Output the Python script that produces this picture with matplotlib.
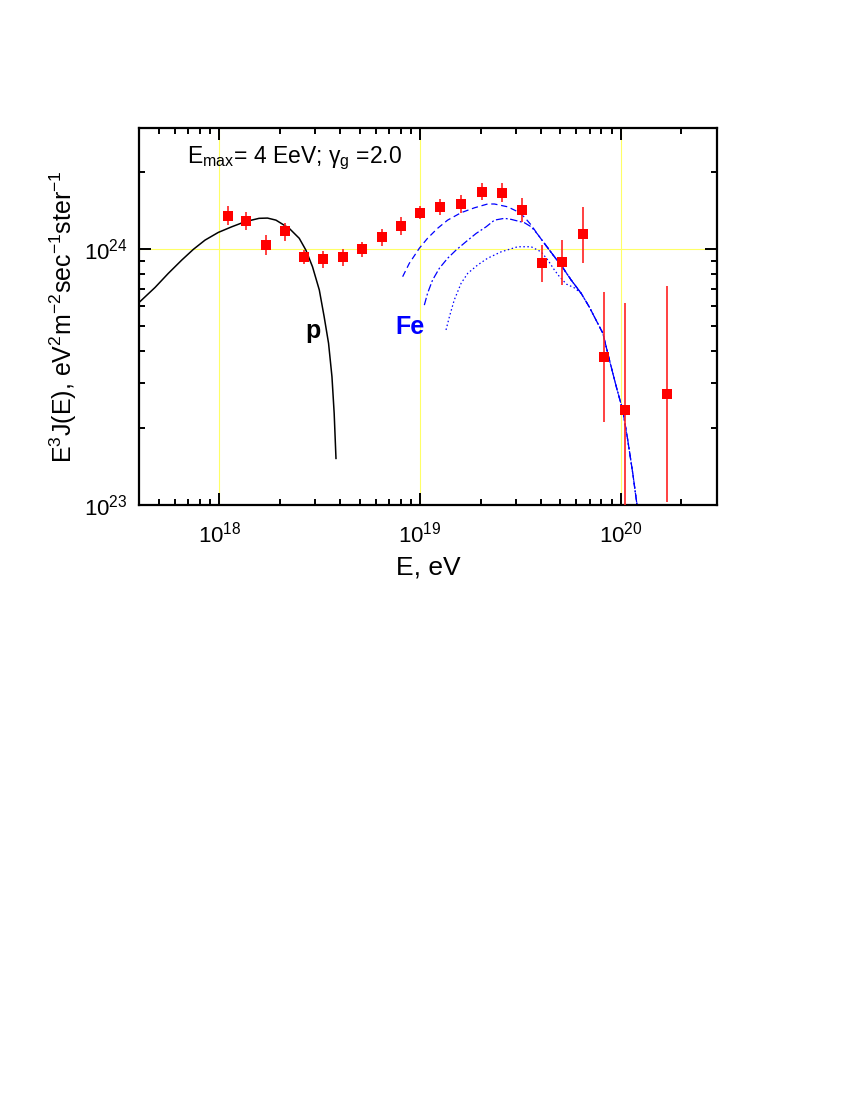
import numpy as np
import matplotlib
matplotlib.use("Agg")
import matplotlib.pyplot as plt
from matplotlib.ticker import LogLocator, NullFormatter

plt.rcParams['font.family'] = ['Liberation Sans', 'DejaVu Sans']
plt.rcParams['mathtext.fontset'] = 'custom'
plt.rcParams['mathtext.rm'] = 'Liberation Sans'
plt.rcParams['mathtext.it'] = 'Liberation Sans:italic'
plt.rcParams['mathtext.bf'] = 'Liberation Sans:bold'

# measured spectrum (flux in units of 1e24)
E_data = [1.10e18, 1.36e18, 1.71e18, 2.12e18, 2.65e18, 3.30e18, 4.13e18, 5.13e18,
          6.46e18, 8.05e18, 1.00e19, 1.26e19, 1.60e19, 2.03e19, 2.56e19, 3.22e19,
          4.06e19, 5.09e19, 6.49e19, 8.28e19, 1.05e20, 1.69e20]
J_data = [1.349, 1.291, 1.038, 1.175, 0.933, 0.914, 0.931, 1.002,
          1.112, 1.230, 1.384, 1.459, 1.500, 1.675, 1.660, 1.419,
          0.883, 0.891, 1.140, 0.379, 0.235, 0.272]
J_hi = [1.472, 1.400, 1.135, 1.268, 0.991, 0.982, 0.998, 1.069,
        1.194, 1.330, 1.472, 1.563, 1.622, 1.807, 1.807, 1.585,
        1.038, 1.084, 1.462, 0.681, 0.617, 0.719]
J_lo = [1.242, 1.186, 0.948, 1.076, 0.873, 0.841, 0.859, 0.933,
        1.028, 1.135, 1.306, 1.358, 1.377, 1.552, 1.531, 1.279,
        0.745, 0.723, 0.883, 0.211, 0.05, 0.1026]

# proton curve (log10 E, log10 flux)
p_logE = [17.595, 17.604, 17.680, 17.746, 17.813, 17.871, 17.929, 17.995, 18.062, 18.129,
          18.198, 18.240, 18.282, 18.348, 18.398, 18.431, 18.464, 18.498, 18.522,
          18.544, 18.561, 18.572, 18.581]
p_logJ = [23.790, 23.794, 23.850, 23.905, 23.957, 23.999, 24.035, 24.065, 24.087, 24.107,
          24.120, 24.121, 24.113, 24.081, 24.042, 23.996, 23.931, 23.840, 23.736,
          23.632, 23.501, 23.358, 23.182]

# common high-energy tail of the Fe curves
tail_logE = [19.619, 19.669, 19.702, 19.752, 19.802, 19.843, 19.910, 19.943,
             19.977, 20.009, 20.034, 20.059, 20.079, 20.090]
tail_logJ = [24.022, 23.970, 23.938, 23.879, 23.827, 23.773, 23.671, 23.566,
             23.462, 23.371, 23.254, 23.124, 23.007, 22.93]

fe1_logE = [18.913, 18.946, 18.996, 19.037, 19.087, 19.137, 19.204, 19.270, 19.336,
            19.370, 19.436, 19.486, 19.519, 19.553, 19.584]
fe1_logJ = [23.892, 23.944, 24.003, 24.042, 24.081, 24.113, 24.142, 24.161, 24.176,
            24.176, 24.165, 24.146, 24.125, 24.094, 24.059]

fe2_logE = [19.021, 19.037, 19.062, 19.096, 19.137, 19.179, 19.229, 19.279, 19.329,
            19.370, 19.420, 19.453, 19.519, 19.553, 19.584]
fe2_logJ = [23.781, 23.827, 23.879, 23.925, 23.964, 23.996, 24.029, 24.061, 24.087,
            24.113, 24.120, 24.116, 24.103, 24.087, 24.059]

fe3_logE = [19.129, 19.146, 19.170, 19.204, 19.237, 19.287, 19.336, 19.403, 19.486,
            19.553, 19.603, 19.636, 19.669, 19.694, 19.729, 19.769, 19.802]
fe3_logJ = [23.684, 23.736, 23.801, 23.866, 23.905, 23.938, 23.964, 23.989, 24.009,
            24.009, 23.989, 23.957, 23.918, 23.892, 23.863, 23.848, 23.827]

fig = plt.figure(figsize=(8.5, 11), dpi=100)
ax = fig.add_axes([0.1635, 0.5409, 0.6797, 0.3427])

ax.set_xscale('log')
ax.set_yscale('log')
ax.set_xlim(3.98e17, 3.0e20)
ax.set_ylim(1e23, 2.97e24)

# yellow grid at decades
for xv in [1e18, 1e19, 1e20]:
    ax.axvline(xv, color='#ffff66', lw=0.8, zorder=0)
ax.axhline(1e24, color='#ffff66', lw=0.8, zorder=0)

def to_lin(le, lj):
    return 10 ** np.array(le), 10 ** np.array(lj)

x, y = to_lin(p_logE, p_logJ)
ax.plot(x, y, color='black', lw=1.1)

tx, ty = to_lin(tail_logE, tail_logJ)
for le, lj, ls in [(fe1_logE, fe1_logJ, (0, (5, 3))),
                   (fe2_logE, fe2_logJ, (0, (6, 2, 1.5, 2))),
                   (fe3_logE, fe3_logJ, (0, (1.2, 2)))]:
    x, y = to_lin(le, lj)
    ax.plot(np.append(x, tx), np.append(y, ty), color='blue', lw=0.9, ls=ls)

Jd = np.array(J_data) * 1e24
yerr = [Jd - np.array(J_lo) * 1e24, np.array(J_hi) * 1e24 - Jd]
ax.errorbar(E_data, Jd, yerr=yerr, fmt='s', color='red', ms=7.5, mew=0,
            ecolor='#ff2020', elinewidth=1.2, capsize=0, zorder=5)

ax.text(10 ** 18.468, 10 ** 23.680, 'p', fontsize=18, fontweight='bold',
        ha='center', va='center', color='black')
ax.text(10 ** 18.951, 10 ** 23.696, 'Fe', fontsize=18, fontweight='bold',
        ha='center', va='center', color='blue')
ax.text(0.0826, 0.906, 'E$_{\\rm max}$= 4 EeV; γ$_{\\rm g}$ =2.0',
        transform=ax.transAxes, fontsize=16.5, va='baseline', ha='left')

ax.xaxis.set_major_locator(LogLocator(base=10, numticks=10))
ax.xaxis.set_minor_locator(LogLocator(base=10, subs=np.arange(2, 10), numticks=20))
ax.yaxis.set_minor_locator(LogLocator(base=10, subs=np.arange(2, 10), numticks=20))
ax.xaxis.set_minor_formatter(NullFormatter())
ax.yaxis.set_minor_formatter(NullFormatter())

ax.tick_params(which='both', direction='in', top=True, right=True, width=1.4)
ax.tick_params(which='major', length=8.5, labelsize=16)
ax.tick_params(which='minor', length=4.5)
ax.tick_params(axis='x', pad=12)
ax.tick_params(axis='y', pad=8)
for s in ax.spines.values():
    s.set_linewidth(1.6)

ax.set_xlabel('E, eV', fontsize=19, labelpad=6)
ax.set_ylabel(r'E$^3$J(E), eV$^2$m$^{-2}$sec$^{-1}$ster$^{-1}$', fontsize=18, labelpad=4)

fig.savefig('out.png', dpi=100)
